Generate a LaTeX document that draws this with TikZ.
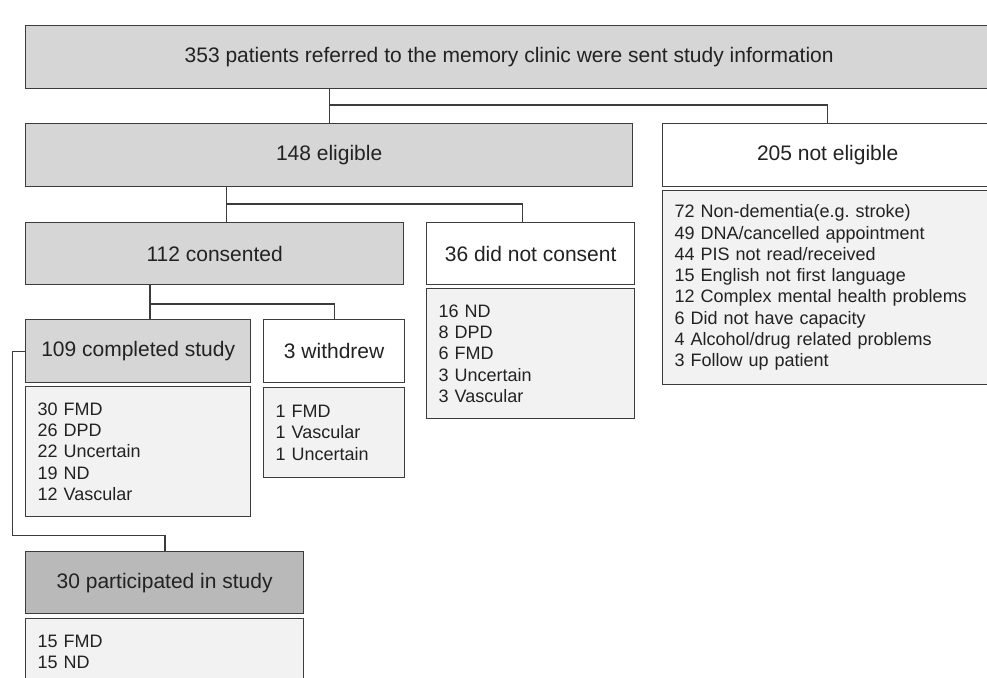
\documentclass[tikz,border=0pt]{standalone}
\usepackage{fontspec}
\setmainfont{Liberation Sans}
\frenchspacing
\definecolor{boxline}{HTML}{3C3C3C}
\definecolor{hdrgray}{HTML}{D6D6D6}
\definecolor{darkgray2}{HTML}{B9B9B9}
\definecolor{listgray}{HTML}{F2F2F2}
\definecolor{txt}{HTML}{222222}
\begin{document}
\begin{tikzpicture}[x=1pt,y=-1pt,
  base/.style={draw=boxline, line width=1.3pt, anchor=north west, inner sep=0pt, text=txt},
  hdr/.style={base, fill=hdrgray, font=\fontsize{21}{25}\selectfont, align=center},
  hdrw/.style={base, fill=white, font=\fontsize{21}{25}\selectfont, align=center},
  hdrd/.style={base, fill=darkgray2, font=\fontsize{21}{25}\selectfont, align=center},
  listbox/.style={base, fill=listgray, font=\fontsize{18}{21.3}\selectfont, align=left, inner xsep=12pt},
  conn/.style={draw=boxline, line width=1.2pt}
]
\useasboundingbox[fill=white] (0,0) rectangle (987,677);

% header row
\node[hdr, minimum width=967pt, minimum height=63pt] (top) at (25,25)
  {353 patients referred to the memory clinic were sent study information};
\node[hdr, minimum width=607pt, minimum height=63pt] (elig) at (25,123) {148 eligible};
\node[hdrw, minimum width=330pt, minimum height=63pt] (noelig) at (662,123) {205 not eligible};
\node[listbox, text width=306pt, minimum height=194pt] (nelist) at (662,190)
  {72 Non-dementia(e.g. stroke)\\
   49 DNA/cancelled appointment\\
   44 PIS not read/received\\
   15 English not first language\\
   12 Complex mental health problems\\
   6 Did not have capacity\\
   4 Alcohol/drug related problems\\
   3 Follow up patient};

% second level
\node[hdr, minimum width=378pt, minimum height=62pt] (cons) at (25,222) {112 consented};
\node[hdrw, minimum width=208pt, minimum height=62pt] (dnc) at (426,222) {36 did not consent};
\node[listbox, text width=184pt, minimum height=130pt] (dnclist) at (426,288)
  {16 ND\\8 DPD\\6 FMD\\3 Uncertain\\3 Vascular};

% third level
\node[hdr, minimum width=225pt, minimum height=63pt] (comp) at (25,319) {109 completed study};
\node[hdrw, minimum width=141pt, minimum height=63pt] (wd) at (263,319) {3 withdrew};
\node[listbox, text width=201pt, minimum height=130pt] (complist) at (25,386)
  {30 FMD\\26 DPD\\22 Uncertain\\19 ND\\12 Vascular};
\node[listbox, text width=117pt, minimum height=90pt] (wdlist) at (263,387)
  {1 FMD\\1 Vascular\\1 Uncertain};

% fourth level
\node[hdrd, minimum width=278pt, minimum height=62pt] (part) at (25,551) {30 participated in study};
\node[listbox, text width=254pt, minimum height=66pt] (partlist) at (25,618)
  {15 FMD\\15 ND};

% connectors
\coordinate (j1) at (329.3,105);
\draw[conn] (j1 |- top.south) -- (j1 |- elig.north);
\draw[conn] (j1) -| (noelig.north);

\coordinate (j2) at (226.7,204);
\coordinate (j2b) at (522.7,204);
\draw[conn] (j2 |- elig.south) -- (j2 |- cons.north);
\draw[conn] (j2) -- (j2b) -- (j2b |- dnc.north);

\coordinate (j3) at (150,304);
\draw[conn] (j3 |- cons.south) -- (j3 |- comp.north);
\draw[conn] (j3) -| (wd.north);

\coordinate (j4) at (12.3,535.7);
\coordinate (j4b) at (165,535.7);
\draw[conn] (comp.west) -| (j4) -- (j4b) -- (j4b |- part.north);
\end{tikzpicture}
\end{document}
